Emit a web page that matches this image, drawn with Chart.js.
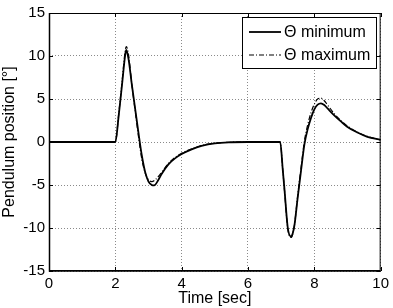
<!DOCTYPE html>
<html>
<head>
<meta charset="utf-8">
<script src="https://cdn.jsdelivr.net/npm/chart.js@4/dist/chart.umd.min.js"></script>
<style>
  html, body { margin: 0; padding: 0; background: #fff; }
  #wrap { width: 393px; height: 308px; position: relative; }
</style>
</head>
<body>
<div id="wrap"><canvas id="c"></canvas></div>
<script>
// ---- Data ----
const seriesLabels = ['\u0398 minimum', '\u0398 maximum'];
const xTitle = 'Time [sec]';
const yTitle = 'Pendulum position [\u00b0]';

const timeMin = [0, 2.0, 2.1, 2.2, 2.3, 2.33, 2.4, 2.5, 2.6, 2.7, 2.8, 2.9, 3.0, 3.1, 3.17, 3.3, 3.4, 3.6, 3.8, 4.0, 4.3, 4.6, 5.0, 5.5, 6.0, 6.97, 7.05, 7.1, 7.2, 7.3, 7.35, 7.4, 7.5, 7.6, 7.7, 7.8, 7.9, 8.0, 8.1, 8.2, 8.3, 8.4, 8.6, 8.8, 9.0, 9.3, 9.6, 10.0];
const thetaMin = [0, 0, 3.0, 6.6, 10.2, 10.7, 9.6, 6.6, 3.8, 1.0, -1.6, -3.5, -4.6, -5.0, -5.05, -4.4, -3.7, -2.6, -1.9, -1.4, -0.85, -0.45, -0.15, -0.03, 0, 0, -3.3, -5.5, -10.0, -11.0, -10.6, -9.7, -6.4, -3.3, -0.3, 1.5, 2.8, 3.8, 4.35, 4.5, 4.3, 3.9, 3.1, 2.4, 1.75, 1.1, 0.6, 0.25];

const timeMax = [0, 2.0, 2.1, 2.2, 2.3, 2.33, 2.4, 2.5, 2.6, 2.7, 2.8, 2.9, 3.0, 3.1, 3.2, 3.3, 3.4, 3.6, 3.8, 4.0, 4.3, 4.6, 5.0, 5.5, 6.0, 6.97, 7.05, 7.1, 7.2, 7.3, 7.35, 7.4, 7.5, 7.6, 7.7, 7.8, 7.9, 8.0, 8.1, 8.2, 8.3, 8.4, 8.6, 8.8, 9.0, 9.3, 9.6, 10.0];
const thetaMax = [0, 0, 3.2, 6.9, 10.7, 11.1, 10.1, 6.6, 3.6, 0.6, -2.0, -3.6, -4.4, -4.6, -4.4, -4.0, -3.5, -2.5, -1.8, -1.3, -0.8, -0.4, -0.13, -0.03, 0, 0, -3.3, -5.6, -10.1, -11.1, -10.7, -9.7, -6.2, -3.0, 0.1, 2.0, 3.4, 4.4, 5.0, 5.1, 4.8, 4.3, 3.3, 2.5, 1.85, 1.15, 0.65, 0.25];

const xTicks = [0, 2, 4, 6, 8, 10];
const yTicks = [-15, -10, -5, 0, 5, 10, 15];

const toPts = (xs, ys) => xs.map((x, i) => ({ x: x, y: ys[i] }));
const FONT = "'Liberation Sans', Arial, sans-serif";

// frame, inward ticks and legend drawn after datasets
const framePlugin = {
  id: 'frame',
  afterDatasetsDraw(chart) {
    const { ctx, chartArea: a, scales } = chart;
    ctx.save();
    ctx.strokeStyle = '#000';
    ctx.lineWidth = 1;
    const L = 4;
    ctx.beginPath();
    xTicks.forEach(v => {
      const px = Math.round(scales.x.getPixelForValue(v)) + 0.5;
      ctx.moveTo(px, a.bottom); ctx.lineTo(px, a.bottom - L);
      ctx.moveTo(px, a.top); ctx.lineTo(px, a.top + L);
    });
    yTicks.forEach(v => {
      const py = Math.round(scales.y.getPixelForValue(v)) + 0.5;
      ctx.moveTo(a.left, py); ctx.lineTo(a.left + L, py);
      ctx.moveTo(a.right, py); ctx.lineTo(a.right - L, py);
    });
    ctx.stroke();
    ctx.lineWidth = 1;
    ctx.strokeRect(a.left + 0.5, a.top + 0.5, a.right - a.left - 1, a.bottom - a.top - 1);
    ctx.lineWidth = 1.5;
    ctx.beginPath();
    ctx.moveTo(a.left + 0.5, a.top); ctx.lineTo(a.left + 0.5, a.bottom);
    ctx.lineTo(a.right, a.bottom);
    ctx.stroke();

    // legend box
    const bx = 242.5, by = 17.5, bw = 134, bh = 51;
    ctx.fillStyle = '#fff';
    ctx.fillRect(bx, by, bw, bh);
    ctx.lineWidth = 1;
    ctx.strokeStyle = '#000';
    ctx.strokeRect(bx, by, bw, bh);
    const rows = [32, 55];
    chart.data.datasets.forEach((ds, i) => {
      ctx.beginPath();
      ctx.setLineDash(ds.borderDash || []);
      ctx.lineWidth = ds.borderWidth;
      ctx.moveTo(249, rows[i]); ctx.lineTo(281, rows[i]);
      ctx.stroke();
      ctx.setLineDash([]);
      ctx.fillStyle = '#000';
      ctx.font = '16px ' + FONT;
      ctx.textBaseline = 'middle';
      ctx.textAlign = 'left';
      ctx.fillText(ds.label, 284, rows[i] + 1);
    });
    ctx.restore();
  }
};

new Chart(document.getElementById('c'), {
  type: 'scatter',
  data: {
    datasets: [
      { label: seriesLabels[0], data: toPts(timeMin, thetaMin), showLine: true, borderColor: '#000', borderWidth: 1.8, pointRadius: 0, cubicInterpolationMode: 'monotone', order: 1 },
      { label: seriesLabels[1], data: toPts(timeMax, thetaMax), showLine: true, borderColor: '#000', borderWidth: 1.2, borderDash: [5, 2, 1, 2], pointRadius: 0, cubicInterpolationMode: 'monotone', order: 0 }
    ]
  },
  options: {
    responsive: true,
    maintainAspectRatio: false,
    animation: false,
    layout: { padding: { left: 0, right: 9, top: 13, bottom: 0 } },
    plugins: { legend: { display: false }, tooltip: { enabled: false } },
    scales: {
      x: {
        type: 'linear', min: 0, max: 10,
        afterBuildTicks: s => { s.ticks = xTicks.map(v => ({ value: v })); },
        afterFit: s => { s.height = 37; },
        ticks: { color: '#000', font: { family: FONT, size: 15 }, padding: 4, maxRotation: 0 },
        grid: { color: '#8a8a8a', drawTicks: false, lineWidth: 1 },
        border: { display: false, dash: [1, 2] },
        title: { display: true, text: xTitle, color: '#000', font: { family: FONT, size: 16 }, padding: { top: 0, bottom: 0 } }
      },
      y: {
        type: 'linear', min: -15, max: 15,
        afterBuildTicks: s => { s.ticks = yTicks.map(v => ({ value: v })); },
        afterFit: s => { s.width = 49; },
        ticks: { color: '#000', font: { family: FONT, size: 15 }, padding: 4 },
        grid: { color: '#8a8a8a', drawTicks: false, lineWidth: 1 },
        border: { display: false, dash: [1, 2] },
        title: { display: true, text: yTitle, color: '#000', font: { family: FONT, size: 16 }, padding: { top: 0, bottom: 0 } }
      }
    }
  },
  plugins: [framePlugin]
});
</script>
</body>
</html>
